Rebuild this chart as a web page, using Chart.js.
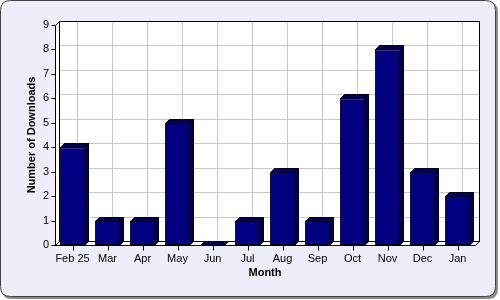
<!DOCTYPE html>
<html>
<head>
<meta charset="utf-8">
<script src="https://cdn.jsdelivr.net/npm/chart.js@4.4.1/dist/chart.umd.min.js"></script>
<style>
  html, body { margin: 0; padding: 0; background: #fff; }
  canvas { display: block; }
</style>
</head>
<body>
<canvas id="chart" width="500" height="300"></canvas>
<script>
// ===== Data =====
const months = ["Feb 25", "Mar", "Apr", "May", "Jun", "Jul", "Aug", "Sep", "Oct", "Nov", "Dec", "Jan"];
const downloads = [4, 1, 1, 5, 0, 1, 3, 1, 6, 8, 3, 2];
const yMax = 9;
const xTitle = "Month";
const yTitle = "Number of Downloads";

// ===== Look =====
const DEPTH = 4;
const FONT = "'Liberation Sans', Arial, sans-serif";
const FRAME_BG = "#eeeefb";
const BAR_FRONT = "#000080";
const BAR_SIDE = "#00005c";
const GRID = "#c8c8c8";

function roundRect(ctx, x, y, w, h, r) {
  ctx.beginPath();
  ctx.moveTo(x + r, y);
  ctx.lineTo(x + w - r, y);
  ctx.quadraticCurveTo(x + w, y, x + w, y + r);
  ctx.lineTo(x + w, y + h - r);
  ctx.quadraticCurveTo(x + w, y + h, x + w - r, y + h);
  ctx.lineTo(x + r, y + h);
  ctx.quadraticCurveTo(x, y + h, x, y + h - r);
  ctx.lineTo(x, y + r);
  ctx.quadraticCurveTo(x, y, x + r, y);
  ctx.closePath();
}

function poly(ctx, pts, fill) {
  ctx.beginPath();
  ctx.moveTo(pts[0][0], pts[0][1]);
  for (let i = 1; i < pts.length; i++) ctx.lineTo(pts[i][0], pts[i][1]);
  ctx.closePath();
  ctx.fillStyle = fill;
  ctx.fill();
  ctx.strokeStyle = "#000";
  ctx.lineWidth = 1;
  ctx.stroke();
}

// ===== Frame, walls and grid (behind everything) =====
const backdrop = {
  id: "backdrop",
  beforeDraw(chart) {
    const { ctx, chartArea: a, scales } = chart;
    const L = Math.round(a.left) + 0.5, R = Math.round(a.right) + 0.5;
    const T = Math.round(a.top) + 0.5, B = Math.round(a.bottom) + 0.5;
    ctx.save();

    // outer frame with shadow
    roundRect(ctx, 2, 2, 496, 297, 10);
    ctx.fillStyle = "#8a8a8a";
    ctx.fill();
    roundRect(ctx, 0.5, 0.5, 495, 296, 10);
    ctx.fillStyle = FRAME_BG;
    ctx.fill();
    ctx.strokeStyle = "#444";
    ctx.lineWidth = 1;
    ctx.stroke();

    // back wall
    ctx.fillStyle = "#fff";
    ctx.fillRect(L + DEPTH, T - DEPTH, R - L, B - T);

    // grid on back wall
    ctx.strokeStyle = GRID;
    ctx.lineWidth = 1;
    ctx.beginPath();
    for (let v = 1; v <= yMax; v++) {
      const y = Math.round(scales.y.getPixelForValue(v)) - DEPTH + 0.5;
      ctx.moveTo(L + DEPTH, y);
      ctx.lineTo(R + DEPTH, y);
    }
    months.forEach((m, i) => {
      const x = Math.round(scales.x.getPixelForValue(i)) + DEPTH + 0.5;
      ctx.moveTo(x, T - DEPTH);
      ctx.lineTo(x, B - DEPTH);
    });
    ctx.stroke();

    ctx.strokeStyle = "#000";
    ctx.strokeRect(L + DEPTH, T - DEPTH, R - L, B - T);

    // left wall and floor
    poly(ctx, [[L, T], [L + DEPTH, T - DEPTH], [L + DEPTH, B - DEPTH], [L, B]], "#fff");
    poly(ctx, [[L, B], [L + DEPTH, B - DEPTH], [R + DEPTH, B - DEPTH], [R, B]], "#fff");

    // tick marks
    ctx.beginPath();
    for (let v = 0; v <= yMax; v++) {
      const y = Math.round(scales.y.getPixelForValue(v)) + 0.5;
      ctx.moveTo(L - 4, y);
      ctx.lineTo(L, y);
    }
    months.forEach((m, i) => {
      const x = Math.round(scales.x.getPixelForValue(i)) + 0.5;
      ctx.moveTo(x, B);
      ctx.lineTo(x, B + 5);
    });
    ctx.strokeStyle = "#000";
    ctx.stroke();
    ctx.restore();
  },

  // 3D top and side of each bar
  afterDatasetsDraw(chart) {
    const ctx = chart.ctx;
    const meta = chart.getDatasetMeta(0);
    ctx.save();
    meta.data.forEach(bar => {
      const l = Math.round(bar.x - bar.width / 2) + 0.5;
      const r = Math.round(bar.x + bar.width / 2) - 0.5;
      const t = Math.round(bar.y) + 0.5;
      const b = Math.round(bar.base) + 0.5;
      poly(ctx, [[l, t], [l + DEPTH, t - DEPTH], [r + DEPTH, t - DEPTH], [r, t]], BAR_SIDE);
      poly(ctx, [[r, t], [r + DEPTH, t - DEPTH], [r + DEPTH, b - DEPTH], [r, b]], BAR_SIDE);
    });
    ctx.restore();
  },

  // axis titles
  afterDraw(chart) {
    const { ctx, chartArea: a } = chart;
    ctx.save();
    ctx.fillStyle = "#000";
    ctx.font = "bold 11px " + FONT;
    ctx.textAlign = "center";
    ctx.textBaseline = "middle";
    ctx.fillText(xTitle, (a.left + a.right) / 2, 273);
    ctx.translate(32, (a.top + a.bottom) / 2);
    ctx.rotate(-Math.PI / 2);
    ctx.fillText(yTitle, 0, 0);
    ctx.restore();
  }
};

new Chart(document.getElementById("chart"), {
  type: "bar",
  data: {
    labels: months,
    datasets: [{
      data: downloads,
      backgroundColor: BAR_FRONT,
      borderColor: "#000",
      borderWidth: 1,
      borderSkipped: false,
      barPercentage: 0.72,
      categoryPercentage: 1
    }]
  },
  options: {
    responsive: false,
    devicePixelRatio: 1,
    animation: false,
    layout: { padding: { left: 0, right: 25, top: 25, bottom: 0 } },
    plugins: {
      legend: { display: false },
      tooltip: { enabled: false }
    },
    scales: {
      x: {
        grid: { display: false, drawTicks: false },
        border: { display: false },
        ticks: {
          color: "#000",
          font: { family: FONT, size: 11 },
          padding: 7,
          maxRotation: 0,
          autoSkip: false
        },
        afterFit(scale) { scale.height = 55; }
      },
      y: {
        min: 0,
        max: yMax,
        grid: { display: false, drawTicks: false },
        border: { display: false },
        ticks: {
          stepSize: 1,
          color: "#000",
          font: { family: FONT, size: 11 },
          padding: 6
        },
        afterFit(scale) { scale.width = 55; }
      }
    }
  },
  plugins: [backdrop]
});
</script>
</body>
</html>
